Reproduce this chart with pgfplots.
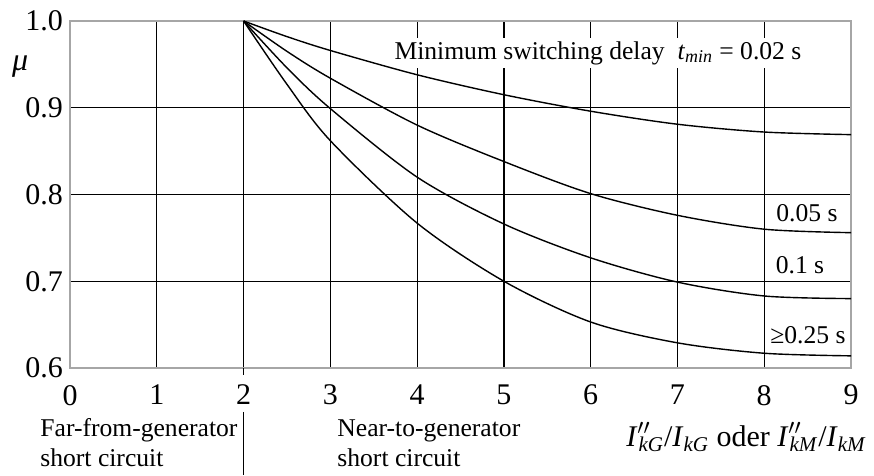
\documentclass[border=0pt]{standalone}
\usepackage{fontspec}
\setmainfont{Liberation Serif}
\usepackage{pgfplots}
\pgfplotsset{compat=1.18}
\newcommand\Ipp[1]{\textit{I}\rlap{\raisebox{0.1ex}{$^{\prime\prime}$}}\textsubscript{\kern0.05em\textit{#1}}}
\newcommand\Ib[1]{\textit{I}\textsubscript{\textit{#1}}}
\begin{document}
\begin{tikzpicture}
\begin{axis}[
  scale only axis,
  width=390.5pt, height=173.5pt,
  xmin=0, xmax=9, ymin=0.6, ymax=1.0,
  xtick={0,...,9}, ytick={0.6,0.7,0.8,0.9,1.0},
  yticklabel style={/pgf/number format/.cd, fixed, fixed zerofill, precision=1},
  xticklabel style={yshift=-5pt},
  /pgf/number format/assume math mode=true,
  ticklabel style={font=\rmfamily\fontsize{15}{17}\selectfont},
  major tick length=0pt,
  grid=major,
  major grid style={black, line width=0.6pt},
  axis line style={gray!70, line width=1.2pt},
  clip=false,
]
\path (axis cs:-0.807,1.0242) rectangle (axis cs:9.265,0.4767);
\node[fill=white, inner sep=1.5pt, font=\rmfamily\fontsize{12.8}{15}\selectfont] at (axis cs:6.084,0.963)
  {Minimum switching delay \ \textit{t}\textsubscript{\textit{min}} = 0.02 s};
\addplot[black, line width=0.7pt, smooth, tension=0.5] coordinates {
  (2,1) (2.5,0.982) (3,0.966) (4,0.938) (5,0.915) (6,0.896) (7,0.881) (8,0.872) (9,0.869)};
\addplot[black, line width=0.7pt, smooth, tension=0.5] coordinates {
  (2,1) (2.5,0.965) (3,0.934) (4,0.880) (5,0.838) (6,0.801) (7,0.776) (8,0.760) (9,0.756)};
\addplot[black, line width=0.7pt, smooth, tension=0.5] coordinates {
  (2,1) (2.5,0.946) (3,0.899) (4,0.820) (5,0.766) (6,0.727) (7,0.699) (8,0.683) (9,0.680)};
\addplot[black, line width=0.7pt, smooth, tension=0.5] coordinates {
  (2,1) (2.5,0.927) (3,0.862) (4,0.767) (5,0.700) (6,0.653) (7,0.629) (8,0.617) (9,0.614)};
\node[font=\rmfamily\fontsize{12.8}{15}\selectfont] at (axis cs:8.493,0.7787) {0.05 s};
\node[font=\rmfamily\fontsize{12.8}{15}\selectfont] at (axis cs:8.412,0.7187) {0.1 s};
\node[font=\rmfamily\fontsize{12.8}{15}\selectfont] at (axis cs:8.504,0.638) {≥0.25 s};
\node[font=\rmfamily\fontsize{16}{18}\selectfont\itshape] at (axis cs:-0.576,0.948) {μ};
\draw[black, line width=0.6pt] (axis cs:2,0.6) -- (axis cs:2,0.592);
\draw[black, line width=0.6pt] (axis cs:2,0.5493) -- (axis cs:2,0.4767);
\node[anchor=west, align=left, inner sep=0pt, font=\rmfamily\fontsize{12.8}{15}\selectfont] at (axis cs:-0.346,0.5135)
  {Far-from-generator\\short circuit};
\node[anchor=west, align=left, inner sep=0pt, font=\rmfamily\fontsize{12.8}{15}\selectfont] at (axis cs:3.077,0.5135)
  {Near-to-generator\\short circuit};
\node[anchor=east, inner sep=0pt, font=\rmfamily\fontsize{15}{17}\selectfont] at (axis cs:9.184,0.5205)
  {\Ipp{kG}/\Ib{kG} oder \Ipp{kM}/\Ib{kM}};
\end{axis}
\end{tikzpicture}
\end{document}
